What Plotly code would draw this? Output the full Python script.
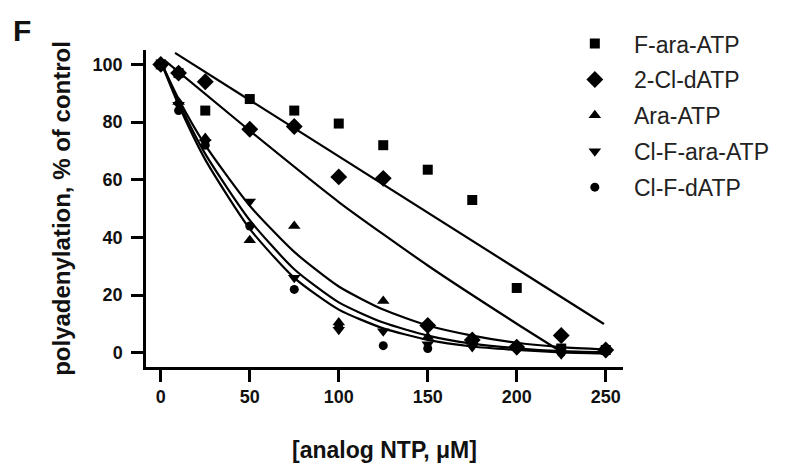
import plotly.graph_objects as go

# ---- data ----
conc = [0, 10, 25, 50, 75, 100, 125, 150, 175, 200, 225, 250]

f_ara_atp   = [100, 97, 84, 88, 84, 79.5, 72, 63.5, 53, 22.5, 1.5, 1]
cl_datp     = [100, 97, 94, 77.5, 78.5, 61, 60.5, 9.5, 4.5, 2, 6, 1]
ara_atp     = [100, 87, 74.5, 39, 44, 10.5, 18, 5.5, 4, 2, 1, 1]
clf_ara_atp = [100, 86, 73, 52.5, 26, 8, 7.5, 3, 2, 1, -0.5, 0]
clf_datp    = [100, 84, 72, 44, 22, 9, 2.5, 1.5, 4.5, 1.5, 0, 1]

# fitted curves
fit_f_x = [8, 249]
fit_f_y = [104, 10]
fit_cl_x = [2, 50, 100, 150, 200, 226]
fit_cl_y = [101.5, 77, 52.3, 30.3, 10.1, 0]
fit_x = [0, 10, 25, 50, 75, 100, 125, 150, 175, 200, 225, 250]
fit_ara_y  = [101, 88, 72, 51, 35, 23, 15, 9.5, 6, 3.5, 2, 1.2]
fit_clfa_y = [101, 87, 69, 46, 29, 17.5, 10.5, 6, 3.2, 1.6, 0.6, 0.2]
fit_clfd_y = [101, 86, 67, 43, 26, 15, 8.5, 4.5, 2.2, 1, 0.2, -0.2]

x_ticks = [0, 50, 100, 150, 200, 250]
y_ticks = [0, 20, 40, 60, 80, 100]

series = [
    ("F-ara-ATP", f_ara_atp, "square", 10),
    ("2-Cl-dATP", cl_datp, "diamond", 13),
    ("Ara-ATP", ara_atp, "triangle-up", 11),
    ("Cl-F-ara-ATP", clf_ara_atp, "triangle-down", 11),
    ("Cl-F-dATP", clf_datp, "circle", 9),
]
fits = [
    (fit_f_x, fit_f_y, "linear"),
    (fit_cl_x, fit_cl_y, "spline"),
    (fit_x, fit_ara_y, "spline"),
    (fit_x, fit_clfa_y, "spline"),
    (fit_x, fit_clfd_y, "spline"),
]

FONT = "Liberation Sans, Arial, sans-serif"
fig = go.Figure()
for fx, fy, shape in fits:
    fig.add_trace(go.Scatter(x=fx, y=fy, mode="lines", showlegend=False,
                             line=dict(color="black", width=2.2, shape=shape, smoothing=0.6),
                             hoverinfo="skip"))
for i, (name, vals, sym, sz) in enumerate(series):
    fig.add_trace(go.Scatter(x=conc, y=vals, mode="markers", name="\u00a0\u00a0\u00a0" + name,
                             legendgroup="g%d" % i,
                             marker=dict(symbol=sym, size=sz, color="black",
                                         line=dict(width=0))))

fig.update_layout(
    width=800, height=466,
    margin=dict(l=138, r=185, t=42, b=107, autoexpand=False),
    paper_bgcolor="white", plot_bgcolor="white",
    font=dict(family=FONT, color="black"),
    showlegend=True,
    legend=dict(x=0.899, y=1.088, xanchor="left", yanchor="top",
                font=dict(size=23, family=FONT, color="#222"),
                bgcolor="rgba(0,0,0,0)", tracegroupgap=3, itemsizing="trace"),
    xaxis=dict(range=[-8.3, 259.7], tickvals=x_ticks, ticktext=[str(v) for v in x_ticks],
               showline=True, linecolor="black", linewidth=2.5, ticks="outside",
               ticklen=12, tickwidth=2.5, tickcolor="black", showgrid=False, zeroline=False,
               ticklabelstandoff=0,
               tickfont=dict(size=18, family=FONT, weight="bold", color="#111"),
               title=dict(text="[analog NTP, \u03bcM]", standoff=36,
                          font=dict(size=23, family=FONT, weight="bold", color="#111"))),
    yaxis=dict(range=[-4.9, 105], tickvals=y_ticks, ticktext=[str(v) for v in y_ticks],
               showline=True, linecolor="black", linewidth=2.5, ticks="outside",
               ticklen=12, tickwidth=2.5, tickcolor="black", showgrid=False, zeroline=False,
               ticklabelstandoff=5,
               tickfont=dict(size=18, family=FONT, weight="bold", color="#111"),
               title=dict(text="polyadenylation, % of control", standoff=16,
                          font=dict(size=24, family=FONT, weight="bold", color="#111"))),
    annotations=[dict(text="<b>F</b>", xref="paper", yref="paper", x=-0.26, y=1.063,
                      xanchor="center", yanchor="middle", showarrow=False,
                      font=dict(size=30, family=FONT, color="#111"))],
)
fig.write_html("out.html")
